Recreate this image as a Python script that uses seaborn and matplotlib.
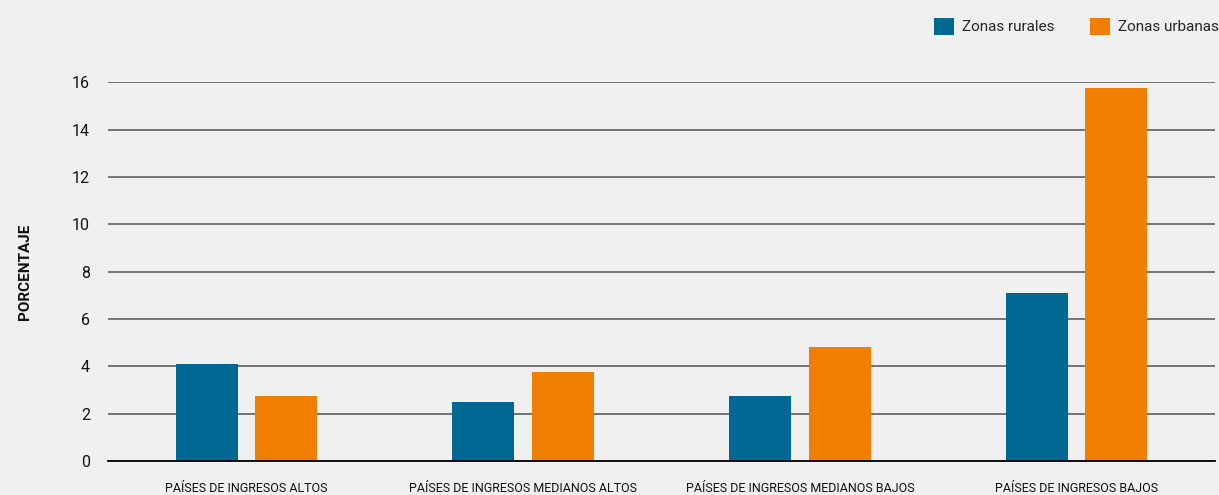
import matplotlib
matplotlib.use("Agg")
import matplotlib.pyplot as plt
import seaborn as sns
import pandas as pd
from matplotlib.patches import Patch

categories = ["PAÍSES DE INGRESOS ALTOS", "PAÍSES DE INGRESOS MEDIANOS ALTOS",
              "PAÍSES DE INGRESOS MEDIANOS BAJOS", "PAÍSES DE INGRESOS BAJOS"]
series_names = ["Zonas rurales", "Zonas urbanas"]
rurales = [4.1, 2.5, 2.75, 7.1]
urbanas = [2.75, 3.75, 4.8, 15.75]
yticks = [0, 2, 4, 6, 8, 10, 12, 14, 16]
colors = ["#006892", "#F07F00"]

df = pd.DataFrame({
    "cat": categories * 2,
    "serie": [series_names[0]] * 4 + [series_names[1]] * 4,
    "val": rurales + urbanas,
})

sns.set_theme(style="white")
plt.rcParams['font.family'] = ['Roboto', 'DejaVu Sans']
bg = "#f0f0f0"
fig = plt.figure(figsize=(12.19, 4.95), dpi=100, facecolor=bg)
ax = fig.add_axes([0.0886, 0.0687, 0.9081, 0.7653])
ax.set_facecolor(bg)

sns.barplot(data=df, x="cat", y="val", hue="serie", order=categories,
            hue_order=series_names, palette=colors, width=0.574, gap=0.22,
            saturation=1, ax=ax, legend=False, zorder=3, linewidth=0)

ax.set_xlim(-0.5, 3.5)
ax.set_ylim(0, 16)
ax.set_yticks(yticks)
ax.set_yticklabels([str(t) for t in yticks], fontsize=11.5)
ax.yaxis.grid(True, color="#5e5e5e", linewidth=1.2, zorder=0)
ax.set_axisbelow(True)
for s in ["top", "right", "left"]:
    ax.spines[s].set_visible(False)
ax.spines["bottom"].set_color("black")
ax.spines["bottom"].set_linewidth(1.3)
ax.spines["bottom"].set_zorder(4)
ax.tick_params(axis="y", length=0, pad=13, labelcolor="#111111")
ax.tick_params(axis="x", length=0, pad=15, labelsize=9, labelcolor="#111111")
ax.set_xlabel("")
ax.set_ylabel("PORCENTAJE", fontsize=11, fontweight="bold", labelpad=29, color="#111111")

handles = [Patch(facecolor=c, edgecolor="none") for c in colors]
fig.legend(handles, series_names, loc="upper right", bbox_to_anchor=(1.006, 0.98),
           ncol=2, frameon=False, fontsize=11, handlelength=1.35, handleheight=1.35,
           columnspacing=2.3, handletextpad=0.5, borderaxespad=0.1)

fig.savefig("out.png", dpi=100, facecolor=bg)
